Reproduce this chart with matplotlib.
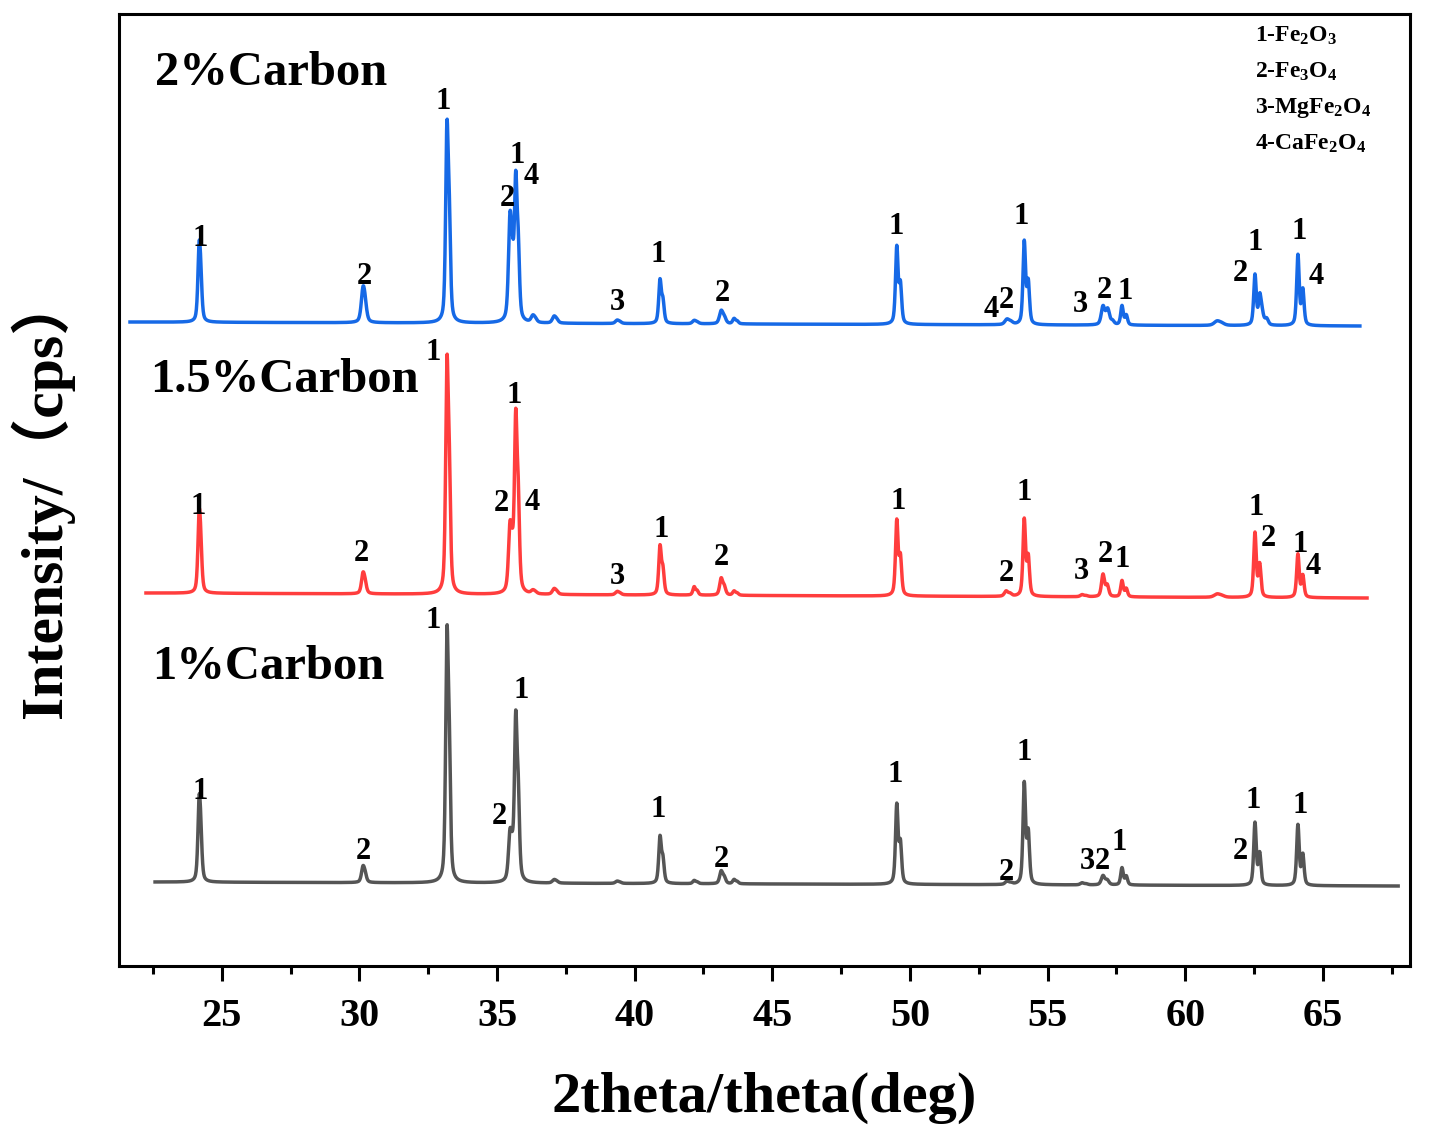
#!/usr/bin/env python
"""XRD patterns of the three carbon dosages, stacked with offsets."""
import matplotlib
matplotlib.use("Agg")
import matplotlib.pyplot as plt
import numpy as np

plt.rcParams["font.family"] = ["Liberation Serif", "Noto Sans CJK SC"]
plt.rcParams["font.weight"] = "bold"
plt.rcParams["mathtext.fontset"] = "custom"
plt.rcParams["mathtext.rm"] = "Liberation Serif:bold"
plt.rcParams["mathtext.it"] = "Liberation Serif:bold"
plt.rcParams["mathtext.bf"] = "Liberation Serif:bold"

# --- data (2theta in deg, intensity in arbitrary units) ---
SAMPLES = ["2%Carbon", "1.5%Carbon", "1%Carbon"]
COLORS = ["#1669e6", "#ff3d3d", "#555555"]

# scan ranges and linear background (start, end)
SCAN_RANGE = [(21.67, 66.35), (22.25, 66.61), (22.58, 67.73)]
BACKGROUND = [(644, 640), (373, 368), (84, 80)]

# peak lists (K-alpha1 positions, heights, FWHM)
BLUE_POS = [24.18, 30.13, 33.18, 35.47, 35.68, 36.30, 37.07, 39.36, 40.92, 42.16,
            43.14, 43.61, 49.52, 53.52, 54.15, 57.01, 57.20, 57.70, 61.15, 62.53,
            62.78, 64.09]
BLUE_H = [66, 29, 180, 92, 128, 6, 6, 3, 42, 3,
          12, 5, 76, 5, 82, 18, 7, 19, 4, 50,
          12, 70]
BLUE_W = [0.11, 0.15, 0.11, 0.13, 0.11, 0.15, 0.15, 0.15, 0.11, 0.15,
          0.15, 0.12, 0.11, 0.18, 0.11, 0.15, 0.14, 0.11, 0.25, 0.11,
          0.14, 0.11]

RED_POS = [24.18, 30.13, 33.18, 35.47, 35.68, 36.30, 37.07, 39.36, 40.92, 42.16,
           43.14, 43.61, 49.52, 53.49, 54.15, 56.25, 57.01, 57.70, 61.15, 62.53,
           64.09]
RED_H = [68, 18, 212, 58, 162, 3, 5, 3, 47, 8,
         16, 4, 74, 5, 76, 2, 22, 16, 3, 64,
         43]
RED_W = [0.11, 0.13, 0.11, 0.13, 0.11, 0.15, 0.15, 0.15, 0.11, 0.11,
         0.13, 0.12, 0.11, 0.15, 0.11, 0.15, 0.13, 0.11, 0.25, 0.11,
         0.11]

GREY_POS = [24.18, 30.13, 33.18, 35.47, 35.68, 37.07, 39.36, 40.92, 42.16, 43.14,
            43.61, 49.52, 53.52, 54.15, 56.25, 57.01, 57.70, 62.53, 64.09]
GREY_H = [71, 14, 228, 42, 152, 3, 2, 45, 3, 12,
          4, 78, 3, 100, 2, 9, 17, 62, 60]
GREY_W = [0.11, 0.13, 0.11, 0.13, 0.11, 0.15, 0.15, 0.11, 0.12, 0.13,
          0.12, 0.11, 0.15, 0.11, 0.15, 0.15, 0.11, 0.11, 0.11]

PEAKS = [(BLUE_POS, BLUE_H, BLUE_W), (RED_POS, RED_H, RED_W),
         (GREY_POS, GREY_H, GREY_W)]

# phase index labels (2theta, y, text)
BLUE_LABELS = [(24.23, 728, "1"), (30.17, 690, "2"), (33.03, 865, "1"),
               (35.36, 768, "2"), (35.73, 811, "1"), (36.23, 790, "4"),
               (39.36, 664, "3"), (40.85, 712, "1"), (43.17, 673, "2"),
               (49.50, 740, "1"), (52.95, 657, "4"), (53.49, 666, "2"),
               (54.04, 750, "1"), (56.18, 662, "3"), (57.05, 676, "2"),
               (57.81, 675, "1"), (61.98, 693, "2"), (62.53, 724, "1"),
               (64.13, 735, "1"), (64.75, 690, "4")]
RED_LABELS = [(24.16, 460, "1"), (30.06, 413, "2"), (32.67, 614, "1"),
              (35.14, 463, "2"), (35.62, 571, "1"), (36.27, 464, "4"),
              (39.36, 390, "3"), (40.96, 437, "1"), (43.14, 409, "2"),
              (49.57, 465, "1"), (53.49, 393, "2"), (54.15, 474, "1"),
              (56.21, 395, "3"), (57.08, 412, "2"), (57.70, 407, "1"),
              (62.56, 459, "1"), (63.00, 428, "2"), (64.17, 422, "1"),
              (64.64, 400, "4")]
GREY_LABELS = [(24.23, 175, "1"), (30.13, 115, "2"), (32.70, 346, "1"),
               (35.10, 150, "2"), (35.87, 276, "1"), (40.85, 157, "1"),
               (43.14, 107, "2"), (49.45, 192, "1"), (53.49, 94, "2"),
               (54.15, 214, "1"), (56.43, 105, "3"), (56.98, 105, "2"),
               (57.59, 124, "1"), (62.45, 166, "1"), (62.01, 115, "2"),
               (64.17, 161, "1")]
LABELS = [BLUE_LABELS, RED_LABELS, GREY_LABELS]

# sample name positions (2theta of left edge, y centre)
SAMPLE_TEXT_POS = [(22.58, 893), (22.40, 586), (22.47, 299)]

PHASES = ["1-Fe$_2$O$_3$", "2-Fe$_3$O$_4$", "3-MgFe$_2$O$_4$", "4-CaFe$_2$O$_4$"]

LAMBDA1, LAMBDA2 = 1.5406, 1.5444


def pseudo_voigt(x, pos, fwhm, eta=0.5):
    d = (x - pos) / (fwhm / 2)
    return eta / (1 + d ** 2) + (1 - eta) * np.exp(-np.log(2) * d ** 2)


def pattern(x, positions, heights, widths):
    y = np.zeros_like(x)
    for p, h, w in zip(positions, heights, widths):
        # K-alpha2 doublet partner
        th = np.radians(p / 2)
        p2 = 2 * np.degrees(np.arcsin(LAMBDA2 / LAMBDA1 * np.sin(th)))
        y += h * pseudo_voigt(x, p, w) + 0.5 * h * pseudo_voigt(x, p2, w)
    return y


fig = plt.figure(figsize=(14.37, 11.42), dpi=100)
ax = fig.add_axes([0.0828, 0.1541, 0.8984, 0.8336])

for i, name in enumerate(SAMPLES):
    x0, x1 = SCAN_RANGE[i]
    x = np.arange(x0, x1, 0.01)
    b0, b1 = BACKGROUND[i]
    bg = b0 + (b1 - b0) * (x - x0) / (x1 - x0)
    pos, h, w = PEAKS[i]
    ax.plot(x, bg + pattern(x, pos, h, w), color=COLORS[i], linewidth=2.5)
    for tx, ty, t in LABELS[i]:
        ax.text(tx, ty, t, ha="center", va="center", fontsize=22,
                fontweight="bold")
    sx, sy = SAMPLE_TEXT_POS[i]
    ax.text(sx, sy, name, ha="left", va="center", fontsize=35,
            fontweight="bold")

for k, ph in enumerate(PHASES):
    ax.text(62.54, 930 - 36 * k, ph, ha="left", va="center", fontsize=17,
            fontweight="bold")

ax.set_xlim(21.27, 68.16)
ax.set_ylim(0, 952)
ax.set_yticks([])
ax.set_xticks(np.arange(25, 66, 5))
ax.set_xticks(np.arange(22.5, 68, 5), minor=True)
ax.tick_params(axis="x", which="major", direction="out", length=11, width=2.2,
               labelsize=29, pad=12)
ax.tick_params(axis="x", which="minor", direction="out", length=5.5, width=2.2)
for lab in ax.get_xticklabels():
    lab.set_fontweight("bold")
for sp in ax.spines.values():
    sp.set_linewidth(2.2)

fig.text(0.532, 0.0385, "2theta/theta(deg)", ha="center", va="center",
         fontsize=42, fontweight="bold")
fig.text(0.029, 0.566, "Intensity/（cps）", ha="center", va="center",
         rotation=90, fontsize=43, fontweight="bold")

fig.savefig("out.png", dpi=100)
plt.close(fig)
